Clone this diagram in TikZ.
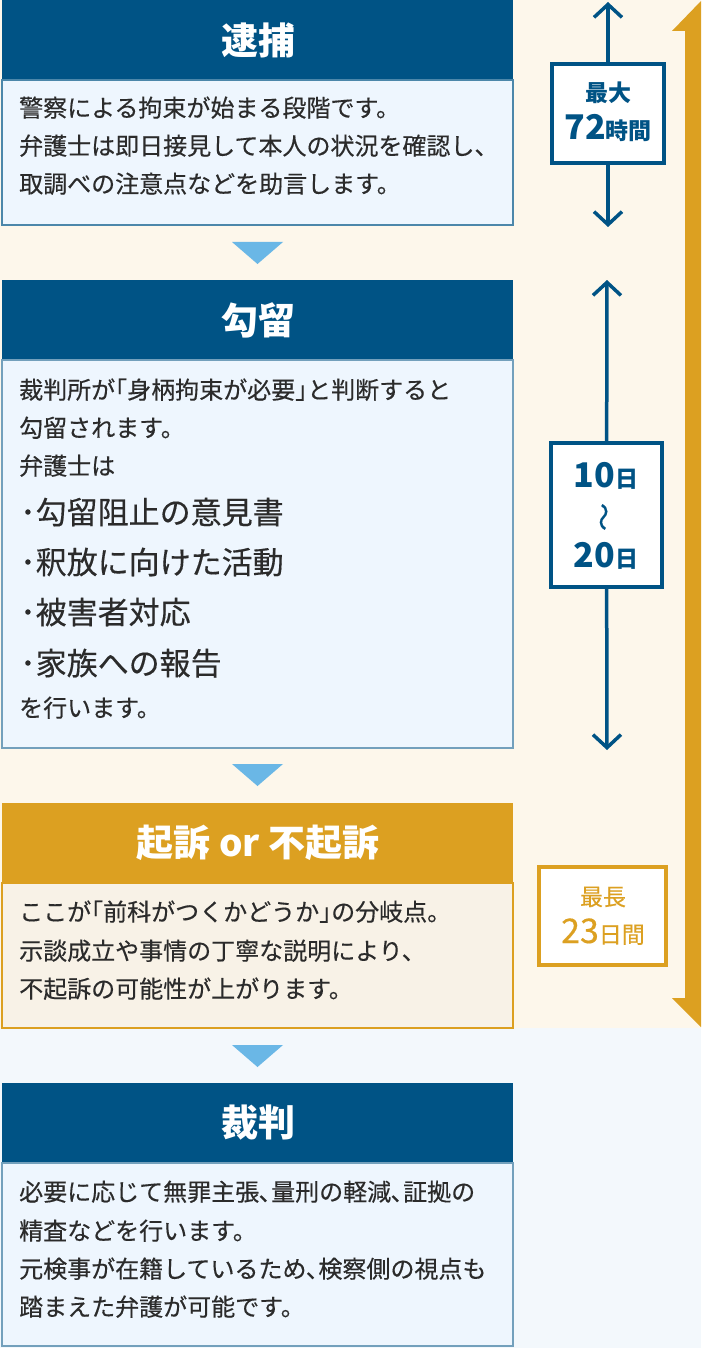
\documentclass[tikz,border=0pt]{standalone}
\usepackage{fontspec}
\setmainfont{Noto Sans CJK JP}
\newfontfamily\jpmed{Noto Sans CJK JP}[FakeBold=0.35]
\usetikzlibrary{arrows.meta}
\definecolor{navy}{HTML}{005385}
\definecolor{gold}{HTML}{DCA021}
\definecolor{cream}{HTML}{FDF7EB}
\definecolor{paleblue}{HTML}{F3F8FC}
\definecolor{bodyblue}{HTML}{EEF6FE}
\definecolor{bodybeige}{HTML}{F8F2E7}
\definecolor{triblue}{HTML}{6AB7E6}
\definecolor{txt}{HTML}{2B2B2B}
\begin{document}
\begin{tikzpicture}[x=1pt,y=-1pt,
  hdr/.style={text=white, font=\fontsize{37}{40}\selectfont\bfseries, inner sep=0pt},
  bodytxt/.style={text=txt, font=\fontsize{24}{30}\selectfont\jpmed, anchor=west, inner sep=0pt, text height=0.88em, text depth=0.12em},
  bullettxt/.style={bodytxt, font=\fontsize{31}{36}\selectfont\jpmed},
  tri/.style={fill=triblue},
  tbox/.style={line width=4pt, fill=white, inner sep=0pt},
  tline/.style={line width=3.5pt, -{Straight Barb[length=13pt,width=28pt]}},
  bigd/.style={font=\fontsize{34}{36}\selectfont\bfseries, inner sep=0pt, anchor=base},
  smallj/.style={font=\fontsize{23}{26}\selectfont\bfseries, inner sep=0pt}
]
\useasboundingbox (0,0) rectangle (701,1348);
% backgrounds
\fill[cream] (0,0) rectangle (701,1028);
\fill[paleblue] (0,1028) rectangle (701,1348);

% ---- box 1
\fill[navy] (2,-1) rectangle (513,80);
\filldraw[fill=bodyblue, draw=navy!70, line width=1.2pt] (2,80) rectangle (513,225);
\node[hdr] (h1) at (258,40) {逮捕};
\node[bodytxt] (b1a) at (19,113) {警察による拘束が始まる段階です。};
\node[bodytxt] (b1b) at (19,151) {弁護士は即日接見して本人の状況を確認し、};
\node[bodytxt] (b1c) at (19,189) {取調べの注意点などを助言します。};

\fill[tri] (232,242) -- (283,242) -- (257.5,264) -- cycle;

% ---- box 2
\fill[navy] (2,280) rectangle (513,360);
\filldraw[fill=bodyblue, draw=navy!55, line width=1.2pt] (2,360) rectangle (513,748);
\node[hdr] (h2) at (258,320) {勾留};
\node[bodytxt] (b2a) at (19,395) {裁判所が｢身柄拘束が必要｣と判断すると};
\node[bodytxt] (b2b) at (19,433) {勾留されます。};
\node[bodytxt] (b2c) at (19,471) {弁護士は};
\node[bullettxt] (b2d) at (20,520) {･勾留阻止の意見書};
\node[bullettxt] (b2e) at (20,570) {･釈放に向けた活動};
\node[bullettxt] (b2f) at (20,620) {･被害者対応};
\node[bullettxt] (b2g) at (20,671) {･家族への報告};
\node[bodytxt] (b2h) at (19,713) {を行います。};

\fill[tri] (232,764) -- (283,764) -- (257.5,786) -- cycle;

% ---- box 3
\fill[gold] (2,803) rectangle (513,883);
\filldraw[fill=bodybeige, draw=gold, line width=1.2pt] (2,883) rectangle (513,1028);
\node[hdr] (h3) at (258,843) {起訴 or 不起訴};
\node[bodytxt] (b3a) at (19,917) {ここが｢前科がつくかどうか｣の分岐点。};
\node[bodytxt] (b3b) at (19,956) {示談成立や事情の丁寧な説明により、};
\node[bodytxt] (b3c) at (19,994) {不起訴の可能性が上がります。};

\fill[tri] (232,1045) -- (283,1045) -- (257.5,1067) -- cycle;

% ---- box 4
\fill[navy] (2,1083) rectangle (513,1163);
\filldraw[fill=bodyblue, draw=navy!55, line width=1.2pt] (2,1163) rectangle (513,1346);
\node[hdr] (h4) at (258,1123) {裁判};
\node[bodytxt] (b4a) at (19,1197) {必要に応じて無罪主張､量刑の軽減､証拠の};
\node[bodytxt] (b4b) at (19,1236) {精査などを行います。};
\node[bodytxt] (b4c) at (19,1274) {元検事が在籍しているため､検察側の視点も};
\node[bodytxt] (b4d) at (19,1312) {踏まえた弁護が可能です。};

% ---- gold overall arrow
\fill[gold] (701,1) -- (672,31) -- (685,31) -- (685,998) -- (672,998) -- (701,1027) -- cycle;

% ---- timeline 1
\coordinate (a1top) at (608,2);
\coordinate (a1bot) at (608,227);
\node[tbox, draw=navy, minimum width=112pt, minimum height=99pt] (t1) at (608,113.5) {};
\draw[tline, navy] (t1) -- (a1top);
\draw[tline, navy] (t1) -- (a1bot);
\node[smallj, text=navy] (t1a) at (608,93) {最大};
\node[bigd, text=navy] (t1b) at (608,140) {72\fontsize{23}{26}\selectfont 時間};

% ---- timeline 2
\coordinate (a2top) at (607,280);
\coordinate (a2bot) at (607,750);
\node[tbox, draw=navy, minimum width=111pt, minimum height=144pt] (t2) at (606.5,515) {};
\draw[tline, navy] (t2) -- (a2top);
\draw[tline, navy] (t2) -- (a2bot);
\node[bigd, text=navy] (t2a) at (606,487) {10\fontsize{23}{26}\selectfont 日};
\node[text=navy, rotate=90, font=\fontsize{28}{30}\selectfont\jpmed, inner sep=0pt] (t2w) at (607,517) {〜};
\node[bigd, text=navy] (t2b) at (606,567) {20\fontsize{23}{26}\selectfont 日};

% ---- timeline 3 (gold)
\node[tbox, draw=gold, minimum width=127pt, minimum height=98pt] (t3) at (602.5,916) {};
\node[smallj, text=gold, font=\fontsize{23}{26}\selectfont\jpmed] (t3a) at (603,897) {最長};
\node[bigd, text=gold, font=\fontsize{34}{36}\selectfont\jpmed] (t3b) at (603,943) {23\fontsize{23}{26}\selectfont 日間};
\end{tikzpicture}
\end{document}
